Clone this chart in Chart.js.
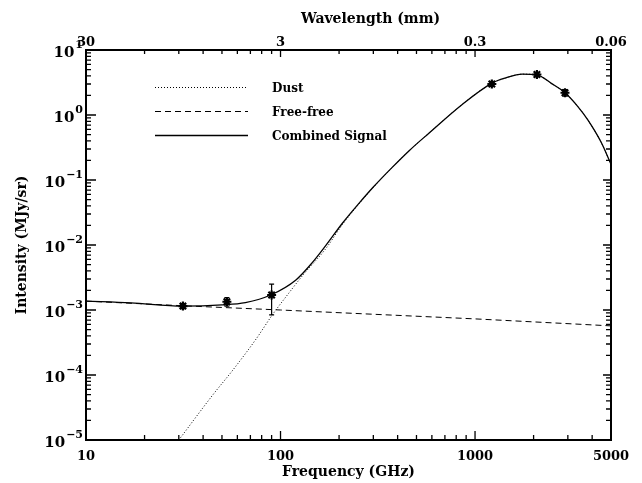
<!DOCTYPE html>
<html>
<head>
<meta charset="utf-8">
<script src="https://cdn.jsdelivr.net/npm/chart.js@4.4.0/dist/chart.umd.min.js"></script>
<style>
  html, body { margin:0; padding:0; background:#fff; }
  #wrap { width:642px; height:483px; }
</style>
</head>
<body>
<div id="wrap"><canvas id="sed" width="642" height="483"></canvas></div>
<script>
  // ---- values ----
  const combFreq = [10, 17, 31.5, 50, 66, 89, 120, 146, 170, 208, 253, 300, 374, 460, 577, 853, 1217, 1430, 1750, 2080, 2466, 2900, 3370, 3800, 4450, 5000];
  const combI    = [1.37e-3, 1.29e-3, 1.15e-3, 1.2e-3, 1.3e-3, 1.7e-3, 2.9e-3, 5.4e-3, 9.6e-3, 0.0216, 0.0437, 0.078, 0.155, 0.285, 0.52, 1.43, 3.07, 3.7, 4.25, 4.15, 3.07, 2.2, 1.36, 0.84, 0.38, 0.175];

  const dustFreq = [30, 45, 57, 75, 91, 110, 132, 170, 208, 253, 300, 374, 460, 577, 853, 1217, 1430, 1750, 2080, 2466, 2900, 3370, 3800, 4450, 5000];
  const dustI    = [1.0e-5, 5.0e-5, 1.2e-4, 3.6e-4, 8.5e-4, 1.8e-3, 3.6e-3, 8.6e-3, 0.0206, 0.0428, 0.077, 0.154, 0.284, 0.52, 1.43, 3.07, 3.7, 4.25, 4.15, 3.07, 2.2, 1.36, 0.84, 0.38, 0.175];

  const ffFreq = [10, 30, 100, 300, 1000, 5000];
  const ffI    = [1.37e-3, 1.17e-3, 1.0e-3, 8.6e-4, 7.3e-4, 5.7e-4];

  const ptFreq = [31.5, 53, 90, 1220, 2080, 2900];
  const ptI    = [1.15e-3, 1.34e-3, 1.70e-3, 3.0, 4.2, 2.2];
  const ptLo   = [1.05e-3, 1.15e-3, 8.4e-4, 2.75, 3.9, 1.95];
  const ptHi   = [1.25e-3, 1.55e-3, 2.5e-3, 3.25, 4.5, 2.45];

  // ---- axis ticks ----
  const xTickVals   = [10, 100, 1000, 5000];
  const xTickLabels = ['10', '100', '1000', '5000'];
  const topTickLabels = ['30', '3', '0.3', '0.06'];   // wavelength in mm
  const xMinorVals  = [20, 30, 40, 50, 60, 70, 80, 90, 200, 300, 400, 500, 600, 700, 800, 900, 2000, 3000, 4000];
  const yTickVals   = [1e-5, 1e-4, 1e-3, 1e-2, 1e-1, 1, 10];
  const yTickExp    = ['\u22125', '\u22124', '\u22123', '\u22122', '\u22121', '0', '1'];
  const yMinorMult  = [2, 3, 4, 5, 6, 7, 8, 9];

  const FONT = "'DejaVu Serif'";
  const xy = (xs, ys) => xs.map((x, i) => ({ x: x, y: ys[i] }));

  // frame, inward ticks, y labels with exponents, top title, legend, error bars
  const decor = {
    id: 'decor',
    afterDatasetsDraw(chart) {
      const c = chart.ctx, a = chart.chartArea;
      const xs = chart.scales.x, ys = chart.scales.y;
      c.save();
      c.setLineDash([]);
      c.strokeStyle = '#000';
      c.lineWidth = 1.2;

      // error bars
      ptFreq.forEach((f, i) => {
        const px = xs.getPixelForValue(f);
        const yl = ys.getPixelForValue(ptLo[i]), yh = ys.getPixelForValue(ptHi[i]);
        c.beginPath();
        c.moveTo(px, yl); c.lineTo(px, yh);
        c.moveTo(px - 2.5, yl); c.lineTo(px + 2.5, yl);
        c.moveTo(px - 2.5, yh); c.lineTo(px + 2.5, yh);
        c.stroke();
      });

      // inward ticks on all four sides
      c.lineWidth = 1.3;
      c.beginPath();
      xMinorVals.forEach(v => {
        const p = xs.getPixelForValue(v);
        c.moveTo(p, a.bottom); c.lineTo(p, a.bottom - 5);
        c.moveTo(p, a.top); c.lineTo(p, a.top + 4);
      });
      xTickVals.forEach(v => {
        const p = xs.getPixelForValue(v);
        c.moveTo(p, a.bottom); c.lineTo(p, a.bottom - 9);
        c.moveTo(p, a.top); c.lineTo(p, a.top + 7);
      });
      yTickVals.forEach(v => {
        const p = ys.getPixelForValue(v);
        c.moveTo(a.left, p); c.lineTo(a.left + 10, p);
        c.moveTo(a.right, p); c.lineTo(a.right - 8, p);
        if (v < 10) yMinorMult.forEach(k => {
          const q = ys.getPixelForValue(v * k);
          c.moveTo(a.left, q); c.lineTo(a.left + 5, q);
          c.moveTo(a.right, q); c.lineTo(a.right - 5, q);
        });
      });
      c.stroke();

      // frame
      c.lineWidth = 2;
      c.strokeRect(a.left, a.top, a.right - a.left, a.bottom - a.top);
      c.restore();
    },
    afterDraw(chart) {
      const c = chart.ctx, a = chart.chartArea;
      const ys = chart.scales.y;
      c.save();
      c.fillStyle = '#000';
      c.strokeStyle = '#000';

      // y tick labels: 10 with superscript exponent
      c.textBaseline = 'alphabetic';
      yTickVals.forEach((v, i) => {
        const p = ys.getPixelForValue(v);
        c.font = 'bold 11px ' + FONT;
        c.textAlign = 'right';
        const ew = c.measureText(yTickExp[i]).width;
        c.fillText(yTickExp[i], a.left - 3, p - 2);
        c.font = 'bold 15px ' + FONT;
        c.fillText('10', a.left - 4 - ew, p + 7);
      });

      // top axis title
      c.font = 'bold 14px ' + FONT;
      c.textAlign = 'center';
      c.fillText('Wavelength (mm)', (a.left + a.right) / 2 + 22, 23);

      // legend
      const order = ['Dust', 'Free-free', 'Combined Signal'];
      order.forEach((lab, i) => {
        const ds = chart.data.datasets.find(d => d.label === lab);
        const ly = Math.round(a.top + 37 + i * 24) + 0.5;
        c.save();
        c.lineWidth = ds.borderWidth;
        c.setLineDash(ds.borderDash || []);
        c.beginPath();
        c.moveTo(a.left + 69, ly); c.lineTo(a.left + 162, ly);
        c.stroke();
        c.restore();
        c.font = 'bold 12px ' + FONT;
        c.textAlign = 'left';
        c.fillText(lab, a.left + 186, ly + 4);
      });
      c.restore();
    }
  };

  const canvas = document.getElementById('sed');
  new Chart(canvas, {
    type: 'line',
    data: {
      datasets: [
        {
          label: 'Combined Signal',
          data: xy(combFreq, combI),
          borderColor: '#000',
          borderWidth: 1.3,
          pointRadius: 0,
          cubicInterpolationMode: 'monotone'
        },
        {
          label: 'Free-free',
          data: xy(ffFreq, ffI),
          borderColor: '#000',
          borderWidth: 1,
          borderDash: [6, 4],
          pointRadius: 0
        },
        {
          label: 'Dust',
          data: xy(dustFreq, dustI),
          borderColor: '#000',
          borderWidth: 1,
          borderDash: [1, 2],
          pointRadius: 0,
          cubicInterpolationMode: 'monotone'
        },
        {
          label: 'Data',
          data: xy(ptFreq, ptI),
          showLine: false,
          pointStyle: 'star',
          pointRadius: 4.5,
          borderWidth: 2.2,
          borderColor: '#000',
          backgroundColor: '#000'
        }
      ]
    },
    options: {
      responsive: false,
      animation: false,
      devicePixelRatio: 1,
      layout: { padding: { left: 0, right: 31, top: 0, bottom: 0 } },
      plugins: { legend: { display: false }, tooltip: { enabled: false } },
      scales: {
        x: {
          type: 'logarithmic', position: 'bottom', min: 10, max: 5000,
          afterBuildTicks: s => { s.ticks = xTickVals.map(v => ({ value: v })); },
          afterFit: s => { s.height = 43; },
          grid: { display: false, drawTicks: false },
          border: { display: false },
          ticks: {
            autoSkip: false, maxRotation: 0, padding: 9, color: '#000',
            font: { family: 'DejaVu Serif', size: 13, weight: 'bold' },
            callback: (v, i) => xTickLabels[i]
          },
          title: {
            display: true, text: 'Frequency (GHz)', color: '#000',
            font: { family: 'DejaVu Serif', size: 14, weight: 'bold' },
            padding: { top: 0, bottom: 2 }
          }
        },
        x2: {
          type: 'logarithmic', position: 'top', min: 10, max: 5000,
          afterBuildTicks: s => { s.ticks = xTickVals.map(v => ({ value: v })); },
          afterFit: s => { s.height = 50; },
          grid: { display: false, drawTicks: false },
          border: { display: false },
          ticks: {
            autoSkip: false, maxRotation: 0, padding: 0, color: '#000',
            font: { family: 'DejaVu Serif', size: 13, weight: 'bold' },
            callback: (v, i) => topTickLabels[i]
          }
        },
        y: {
          type: 'logarithmic', position: 'left', min: 1e-5, max: 10,
          afterBuildTicks: s => { s.ticks = yTickVals.map(v => ({ value: v })); },
          afterFit: s => { s.width = 86; },
          grid: { display: false, drawTicks: false },
          border: { display: false },
          ticks: { display: false },
          title: {
            display: true, text: 'Intensity (MJy/sr)', color: '#000',
            font: { family: 'DejaVu Serif', size: 14, weight: 'bold' },
            padding: { top: 14, bottom: 0 }
          }
        }
      }
    },
    plugins: [decor]
  });
</script>
</body>
</html>
